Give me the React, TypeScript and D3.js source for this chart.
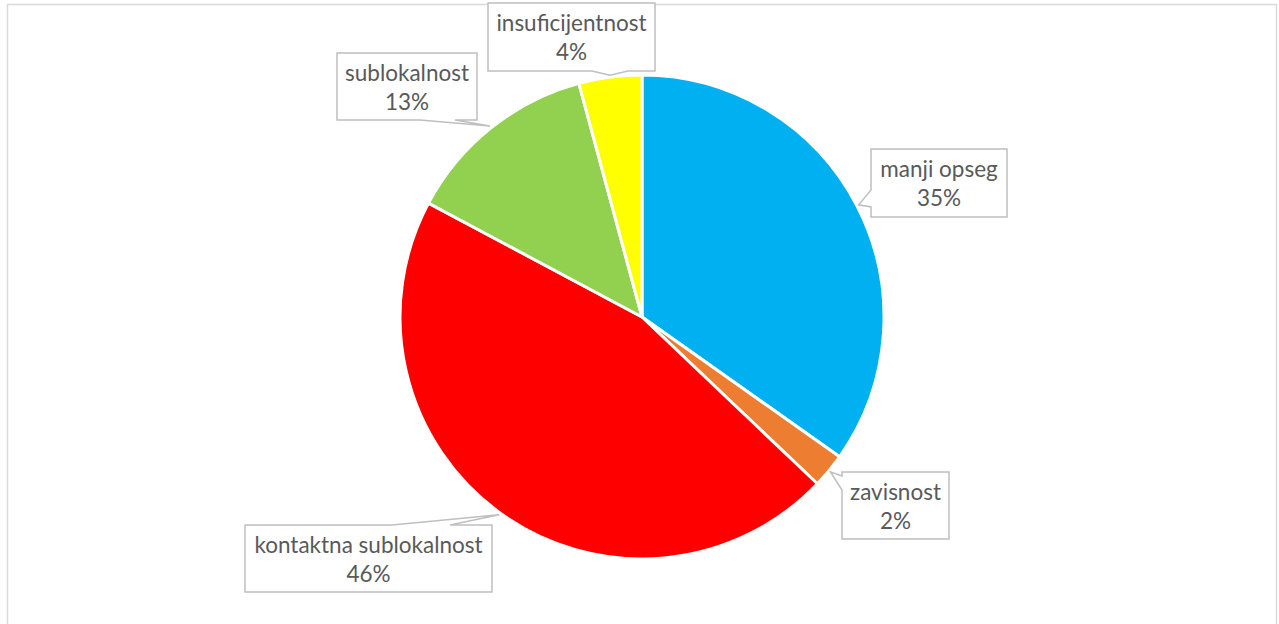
import React from "react";
import * as d3 from "d3";

const categories = ["manji opseg", "zavisnost", "kontaktna sublokalnost", "sublokalnost", "insuficijentnost"];
const values = [34.8, 2.3, 45.7, 13.0, 4.2];
const colors = ["#00B0F0", "#ED7D31", "#FF0000", "#92D050", "#FFFF00"];

// layout of callout boxes (x, y, w, h) and pointer base on an edge
type Box = { x: number; y: number; w: number; h: number; edge: "top" | "bottom" | "left"; a: number; b: number };
const boxes: Box[] = [
  { x: 871, y: 149, w: 136, h: 68, edge: "left", a: 190, b: 207 },
  { x: 842, y: 472, w: 107, h: 67, edge: "left", a: 476, b: 490 },
  { x: 245, y: 525, w: 247, h: 67, edge: "top", a: 392, b: 450 },
  { x: 337, y: 53, w: 140, h: 67, edge: "bottom", a: 420, b: 455 },
  { x: 488, y: 3, w: 167, h: 68, edge: "bottom", a: 592, b: 628 },
];

const W = 1279;
const H = 624;
const cx = 642;
const cy = 317;
const R = 242;

function calloutPath(bx: Box, tip: [number, number]) {
  const { x, y, w, h, edge, a, b } = bx;
  const pts: [number, number][] = [];
  pts.push([x, y]);
  if (edge === "top") {
    pts.push([a, y], tip, [b, y]);
  }
  pts.push([x + w, y]);
  pts.push([x + w, y + h]);
  if (edge === "bottom") {
    pts.push([b, y + h], tip, [a, y + h]);
  }
  pts.push([x, y + h]);
  if (edge === "left") {
    pts.push([x, b], tip, [x, a]);
  }
  return "M" + pts.map((p) => p[0] + "," + p[1]).join("L") + "Z";
}

export default function App() {
  const total = d3.sum(values);
  const pie = d3.pie<number>().sort(null).value((d) => d)(values);
  const arc = d3.arc<d3.PieArcDatum<number>>().innerRadius(0).outerRadius(R);
  const fmt = (v: number) => Math.round((v / total) * 100) + "%";

  return (
    <svg
      width={W}
      height={H}
      style={{ position: "absolute", left: 0, top: 0, background: "#fff" }}
    >
      <rect x={7.5} y={4.5} width={1269} height={660} fill="#fff" stroke="#D9D9D9" strokeWidth={1.5} />
      <g transform={`translate(${cx},${cy})`}>
        {pie.map((p, i) => (
          <path key={i} d={arc(p) || ""} fill={colors[i]} stroke="#fff" strokeWidth={3} strokeLinejoin="round" />
        ))}
      </g>
      {pie.map((p, i) => {
        const mid = (p.startAngle + p.endAngle) / 2;
        const tip: [number, number] = [cx + Math.sin(mid) * (R + 2), cy - Math.cos(mid) * (R + 2)];
        const bx = boxes[i];
        const tx = bx.x + bx.w / 2;
        return (
          <g key={"l" + i}>
            <path d={calloutPath(bx, tip)} fill="#fff" stroke="#BFBFBF" strokeWidth={1.5} />
            <text
              x={tx}
              y={bx.y + 28}
              textAnchor="middle"
              fontFamily="Lato, 'Open Sans', sans-serif"
              fontSize={22.5}
              fill="#595959"
            >
              {categories[i]}
            </text>
            <text
              x={tx}
              y={bx.y + 57}
              textAnchor="middle"
              fontFamily="Lato, 'Open Sans', sans-serif"
              fontSize={22.5}
              fill="#595959"
            >
              {fmt(values[i])}
            </text>
          </g>
        );
      })}
    </svg>
  );
}
